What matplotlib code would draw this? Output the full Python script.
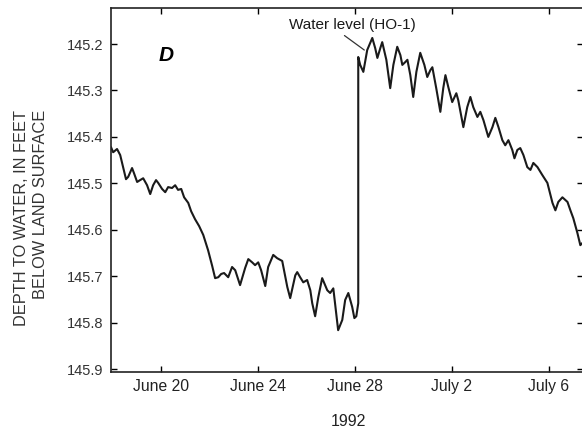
import matplotlib
matplotlib.use("Agg")
import matplotlib.pyplot as plt

plt.rcParams["font.family"] = ["Liberation Sans", "DejaVu Sans"]

# Water level record, well HO-1, summer 1992
# time: day counted from June 1 (June 20 = 20, July 2 = 32)
time_before = [17.93, 18.02, 18.18, 18.31, 18.43, 18.55, 18.64, 18.80, 18.88, 19.01,
               19.13, 19.26, 19.42, 19.55, 19.67, 19.79, 19.88, 20.04, 20.17, 20.29,
               20.45, 20.58, 20.70, 20.83, 20.95, 21.12, 21.24, 21.40, 21.57, 21.74,
               21.94, 22.11, 22.23, 22.36, 22.48, 22.60, 22.77, 22.93, 23.06, 23.26,
               23.47, 23.60, 23.76, 23.88, 24.01, 24.13, 24.30, 24.42, 24.63, 24.79,
               25.00, 25.21, 25.33, 25.54, 25.62, 25.74, 25.87, 26.03, 26.16, 26.24,
               26.36, 26.49, 26.65, 26.86, 26.98, 27.11, 27.31, 27.48, 27.60, 27.73,
               27.89, 27.98, 28.06, 28.14]
depth_before = [145.422, 145.433, 145.426, 145.439, 145.465, 145.491, 145.486, 145.467, 145.478, 145.497,
                145.493, 145.489, 145.504, 145.523, 145.504, 145.493, 145.499, 145.512, 145.519, 145.508,
                145.510, 145.504, 145.514, 145.512, 145.530, 145.542, 145.560, 145.577, 145.592, 145.611,
                145.644, 145.678, 145.704, 145.702, 145.695, 145.693, 145.702, 145.680, 145.687, 145.719,
                145.682, 145.663, 145.670, 145.676, 145.670, 145.687, 145.721, 145.680, 145.654, 145.661,
                145.667, 145.723, 145.747, 145.698, 145.691, 145.702, 145.713, 145.708, 145.730, 145.758,
                145.786, 145.745, 145.704, 145.730, 145.736, 145.726, 145.816, 145.794, 145.751, 145.736,
                145.766, 145.790, 145.786, 145.758]

time_after = [28.14, 28.22, 28.35, 28.51, 28.72, 28.84, 28.93, 29.05, 29.13, 29.30,
              29.46, 29.59, 29.75, 29.88, 29.96, 30.08, 30.17, 30.29, 30.41, 30.54,
              30.70, 30.87, 30.99, 31.12, 31.20, 31.36, 31.53, 31.65, 31.74, 31.86,
              32.02, 32.19, 32.27, 32.48, 32.64, 32.77, 32.89, 33.06, 33.18, 33.31,
              33.51, 33.68, 33.80, 33.93, 34.09, 34.21, 34.34, 34.50, 34.59, 34.71,
              34.83, 34.96, 35.12, 35.25, 35.37, 35.54, 35.74, 35.95, 36.16, 36.28,
              36.40, 36.57, 36.78, 36.90, 37.02, 37.19, 37.31, 37.44]
depth_after = [145.228, 145.245, 145.260, 145.213, 145.187, 145.209, 145.230, 145.209, 145.196, 145.234,
               145.295, 145.245, 145.206, 145.224, 145.245, 145.239, 145.234, 145.267, 145.314, 145.260,
               145.219, 145.245, 145.271, 145.256, 145.250, 145.295, 145.346, 145.295, 145.267, 145.293,
               145.325, 145.306, 145.321, 145.379, 145.336, 145.314, 145.336, 145.357, 145.346, 145.364,
               145.400, 145.379, 145.359, 145.379, 145.407, 145.418, 145.407, 145.428, 145.446, 145.428,
               145.424, 145.439, 145.465, 145.471, 145.456, 145.465, 145.482, 145.499, 145.542, 145.558,
               145.540, 145.530, 145.540, 145.558, 145.575, 145.607, 145.633, 145.626]

tick_days = [20, 24, 28, 32, 36]
tick_labels = ["June 20", "June 24", "June 28", "July 2", "July 6"]
depth_ticks = [145.2, 145.3, 145.4, 145.5, 145.6, 145.7, 145.8, 145.9]

time = time_before + time_after
depth = depth_before + depth_after

# --------------------------------------------------------------------------------

fig = plt.figure(figsize=(5.82, 4.30), dpi=100)
ax = fig.add_axes([0.1907, 0.1349, 0.811, 0.8465])

ax.plot(time, depth, color="#1a1a1a", lw=1.5,
        solid_joinstyle="round", solid_capstyle="round")

ax.set_xlim(17.93, 37.42)
ax.set_ylim(145.906, 145.1225)

ax.set_xticks(tick_days)
ax.set_xticklabels(tick_labels, fontsize=11.3, color="#222222")
ax.set_yticks(depth_ticks)
ax.set_yticklabels([f"{v:.1f}" for v in depth_ticks], fontsize=10.5, color="#333333")
ax.tick_params(axis="both", direction="in", length=4, width=1, top=True, right=True)
ax.tick_params(axis="y", pad=5.5)
ax.tick_params(axis="x", pad=5)

for s in ax.spines.values():
    s.set_linewidth(1.2)
    s.set_color("#222222")

# panel letter
ax.text(20.21, 145.224, "D", fontsize=15, fontweight="bold",
        fontstyle="italic", ha="center", va="center")

ax.annotate("Water level (HO-1)", xy=(28.39, 145.213), xytext=(27.89, 145.159),
            fontsize=11, color="#1a1a1a", ha="center", va="center",
            arrowprops=dict(arrowstyle="-", color="#333333", lw=0.9,
                            relpos=(0.4, 0.0), shrinkA=1, shrinkB=0))

fig.text(31 / 582, 1 - 218 / 430, "DEPTH TO WATER, IN FEET\nBELOW LAND SURFACE",
         rotation=90, ha="center", va="center", multialignment="right",
         fontsize=11.8, color="#333333", linespacing=1.4)
fig.text(348 / 582, 1 - 421 / 430, "1992", ha="center", va="center",
         fontsize=11.5, color="#222222")

fig.savefig("out.png", dpi=100)
